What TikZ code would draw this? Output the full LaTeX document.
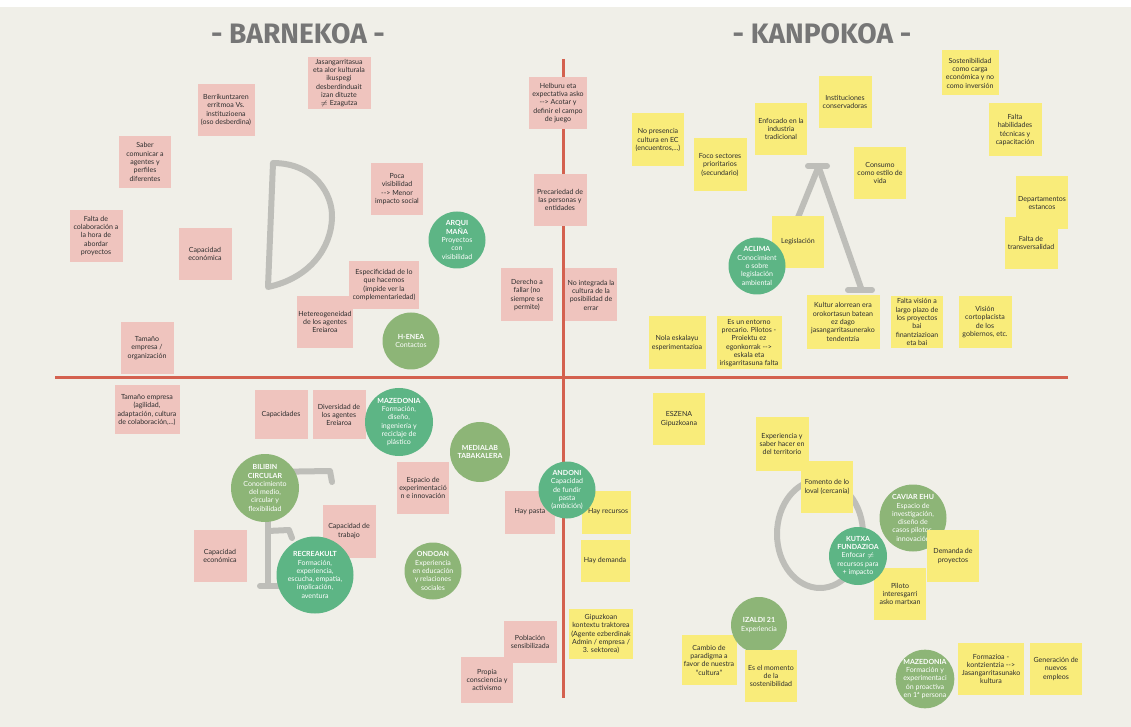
\documentclass[tikz,border=0pt]{standalone}
\usepackage{fontspec}
\setmainfont{Lato}
\newfontfamily\titlefont{Fira Sans}
\usepackage{xcolor}

\definecolor{boardbg}{HTML}{F0EFE8}
\definecolor{notepink}{HTML}{EFC4BE}
\definecolor{noteyellow}{HTML}{F9EC7A}
\definecolor{notetext}{HTML}{2E2E2E}
\definecolor{agentgreen}{HTML}{5DB585}
\definecolor{agentolive}{HTML}{8DB577}
\definecolor{axisred}{HTML}{D4614F}
\definecolor{lettergray}{HTML}{BEBEB9}
\definecolor{titlegray}{HTML}{767676}

\newcommand\notefont{\fontsize{5}{5.9}\selectfont}

\tikzset{
  wh/.style 2 args={minimum width=#1*0.025cm,minimum height=#2*0.025cm},
  dia/.style={minimum size=#1*0.025cm},
  note/.style={inner sep=0pt,align=center,font=\notefont,text=notetext},
  pinknote/.style={note,fill=notepink},
  yellownote/.style={note,fill=noteyellow},
  agent/.style={circle,inner sep=0pt,align=center,font=\notefont,text=white},
  darkagent/.style={agent,fill=agentgreen},
  paleagent/.style={agent,fill=agentolive},
  bigletter/.style={draw=lettergray,line width=0.15cm,line cap=round,line join=round},
  axis/.style={draw=axisred,line width=0.075cm},
  titletext/.style={font=\titlefont\bfseries\fontsize{20}{24}\selectfont,text=titlegray}
}

\begin{document}
\begin{tikzpicture}[x=0.025cm,y=-0.025cm]
\useasboundingbox (0,0) rectangle (1131,727);

%board
\fill[white] (0,0) rectangle (1131,727);
\fill[boardbg] (0,7) rectangle (1131,727);

%titles
\node[titletext] (barnekoa) at (298,34) {- BARNEKOA -};
\node[titletext] (kanpokoa) at (822,34) {- KANPOKOA -};

%axes
\coordinate (hleft) at (55,378);
\coordinate (hright) at (1068,378);
\coordinate (vtop) at (563,59);
\coordinate (vbot) at (563,698);
\draw[axis] (hleft) -- (hright);
\draw[axis] (vtop) -- (vbot);

%D letter
\draw[bigletter] (273,163) .. controls (315,163) and (333,195) .. (332,218)
  .. controls (331,248) and (310,278) .. (268,287) -- cycle;

%A letter
\draw[bigletter] (808,166) -- (827,166);
\draw[bigletter] (818,168) -- (776,272);
\draw[bigletter] (819,168) -- (861,288);
\draw[bigletter] (848,290) -- (872,290);

%F letter
\draw[bigletter] (268,470) -- (268,585);
\draw[bigletter] (260,586) -- (280,586);
\draw[bigletter] (268,472) -- (330,471) -- (332,482);
\draw[bigletter] (268,531) -- (289,530) -- (292,538);

%O letter
\draw[bigletter] (820,534) ellipse[x radius=43,y radius=54];

%D quadrant
\node[pinknote,wh={57}{52}] (berri) at (226,110) {Berrikuntzaren\\erritmoa Vs.\\instituzioena\\(oso desberdina)};
\node[pinknote,wh={52}{52}] (saber) at (145,162) {Saber\\comunicar a\\agentes y\\perfiles\\diferentes};
\node[pinknote,wh={53}{52}] (faltacol) at (96,236) {Falta de\\colaboración a\\la hora de\\abordar\\proyectos};
\node[pinknote,wh={53}{52}] (capeco) at (205,254) {Capacidad\\económica};
\node[pinknote,wh={53}{52}] (tamano) at (147,348) {Tamaño\\empresa /\\organización};
\node[pinknote,wh={63}{52}] (jasan) at (339,83) {Jasangarritasua\\eta alor kulturala\\ikuspegi\\desberdinduait\\izan dituzte\\$\neq$ Ezagutza};
\node[pinknote,wh={52}{52}] (poca) at (397,189) {Poca\\visibilidad\\-{}-> Menor\\impacto social};
\node[pinknote,wh={70}{48}] (espec) at (384,285) {Especificidad de lo\\que hacemos\\(impide ver la\\complementariedad)};
\node[pinknote,wh={56}{52}] (hetero) at (325,322) {Hetereogeneidad\\de los agentes\\Ereiaroa};
\node[pinknote,wh={58}{52}] (helburu) at (558,103) {Helburu eta\\expectativa asko\\-{}-> Acotar y\\definir el campo\\de juego};
\node[pinknote,wh={53}{52}] (preca) at (560,200) {Precariedad de\\las personas y\\entidades};
\node[pinknote,wh={52}{53}] (derecho) at (527,295) {Derecho a\\fallar (no\\siempre se\\permite)};
\node[pinknote,wh={52}{53}] (nointeg) at (591,295) {No integrada la\\cultura de la\\posibilidad de\\errar};
\node[darkagent,dia=57] (arqui) at (457,240) {\textbf{ARQUI}\\\textbf{MAÑA}\\Proyectos\\con\\visibilidad};
\node[paleagent,dia=57] (henea) at (411,341) {\textbf{H-ENEA}\\Contactos};

%A quadrant
\node[yellownote,wh={52}{53}] (nopres) at (658,140) {No presencia\\cultura en EC\\(encuentros,...)};
\node[yellownote,wh={53}{53}] (foco) at (720,165) {Foco sectores\\prioritarios\\(secundario)};
\node[yellownote,wh={52}{52}] (enfoc) at (781,129) {Enfocado en la\\industria\\tradicional};
\node[yellownote,wh={53}{52}] (instit) at (845,102) {Instituciones\\conservadoras};
\node[yellownote,wh={52}{52}] (consumo) at (880,173) {Consumo\\como estilo de\\vida};
\node[yellownote,wh={57}{45}] (sosten) at (970,73) {Sostenibilidad\\como carga\\económica y no\\como inversión};
\node[yellownote,wh={53}{53}] (habil) at (1015,130) {Falta\\habilidades\\técnicas y\\capacitación};
\node[yellownote,wh={52}{53}] (depart) at (1042,203) {Departamentos\\estancos};
\node[yellownote,wh={53}{52}] (transv) at (1031,243) {Falta de\\transversalidad};
\node[yellownote,wh={52}{52}] (legis) at (798,242) {Legislación};
\node[darkagent,dia=57] (aclima) at (757,266) {\textbf{ACLIMA}\\Conocimient\\o sobre\\legislación\\ambiental};
\node[yellownote,wh={73}{54}] (kultur) at (843,322) {Kultur alorrean era\\orokortasun batean\\ez dago\\jasangarritasunerako\\tendentzia};
\node[yellownote,wh={52}{52}] (faltavis) at (917,322) {Falta visión a\\largo plazo de\\los proyectos\\bai\\finantziazioan\\eta bai};
\node[yellownote,wh={53}{52}] (cortopl) at (985,322) {Visión\\cortoplacista\\de los\\gobiernos, etc.};
\node[yellownote,wh={57}{53}] (nola) at (677,343) {Nola eskalayu\\esperimentazioa};
\node[yellownote,wh={65}{53}] (entorno) at (749,343) {Es un entorno\\precario. Pilotos -\\Proiektu ez\\egonkorrak -{}->\\eskala eta\\irisgarritasuna falta};

%F quadrant
\node[pinknote,wh={65}{49}] (tamano2) at (147,410) {Tamaño empresa\\(agilidad,\\adaptación, cultura\\de colaboración,...)};
\node[pinknote,wh={53}{49}] (capac) at (281,415) {Capacidades};
\node[pinknote,wh={53}{49}] (divers) at (339,415) {Diversidad de\\los agentes\\Ereiaroa};
\node[darkagent,dia=68] (mazeleft) at (399,422) {\textbf{MAZEDONIA}\\Formación,\\diseño,\\ingeniería y\\reciclaje de\\plástico};
\node[paleagent,dia=60] (medialab) at (480,452) {\textbf{MEDIALAB}\\\textbf{TABAKALERA}};
\node[pinknote,wh={52}{52}] (espacio) at (423,488) {Espacio de\\experimentació\\n e innovación};
\node[paleagent,dia=68] (bilibin) at (265,488) {\textbf{BILIBIN}\\\textbf{CIRCULAR}\\Conocimiento\\del medio,\\circular y\\flexibilidad};
\node[pinknote,wh={53}{52}] (capeco2) at (220,556) {Capacidad\\económica};
\node[pinknote,wh={53}{53}] (captrab) at (349,531) {Capacidad de\\trabajo};
\node[darkagent,dia=77] (recrea) at (315,575) {\textbf{RECREAKULT}\\Formación,\\experiencia,\\escucha, empatía,\\implicación,\\aventura};
\node[paleagent,dia=57] (ondoan) at (433,571) {\textbf{ONDOAN}\\Experiencia\\en educación\\y relaciones\\sociales};
\node[pinknote,wh={50}{43}] (haypasta) at (530,512) {Hay pasta};
\node[pinknote,wh={53}{42}] (poblacion) at (530,642) {Población\\sensibilizada};
\node[pinknote,wh={52}{46}] (propia) at (487,680) {Propia\\consciencia y\\activismo};

%O quadrant
\node[yellownote,wh={49}{43}] (hayrec) at (606,512) {\hspace{3pt}Hay recursos};
\node[yellownote,wh={49}{42}] (haydem) at (605,561) {Hay demanda};
\node[darkagent,dia=57] (andoni) at (567,490) {\textbf{ANDONI}\\Capacidad\\de fundir\\pasta\\(ambición)};
\node[yellownote,wh={64}{50}] (gipuz) at (601,634) {Gipuzkoan\\kontextu traktorea\\(Agente ezberdinak\\Admin / empresa /\\3. sektorea)};
\node[yellownote,wh={52}{52}] (eszena) at (679,419) {ESZENA\\Gipuzkoana};
\node[yellownote,wh={53}{53}] (expsab) at (782,444) {Experiencia y\\saber hacer en\\del territorio};
\node[yellownote,wh={52}{52}] (fomento) at (827,487) {Fomento de lo\\loval (cercanía)};
\node[paleagent,dia=67] (caviar) at (913,518) {\textbf{CAVIAR EHU}\\Espacio de\\investigación,\\diseño de\\casos pilotos,\\innovación};
\node[yellownote,wh={52}{52}] (demanda) at (953,556) {Demanda de\\proyectos};
\node[yellownote,wh={52}{52}] (piloto) at (900,594) {Piloto\\interesgarri\\asko martxan};
\node[darkagent,dia=58] (kutxa) at (858,556) {\textbf{KUTXA}\\\textbf{FUNDAZIOA}\\Enfocar $\neq$\\recursos para\\+ impacto};
\node[yellownote,wh={55}{50}] (cambio) at (709,660) {Cambio de\\paradigma a\\favor de nuestra\\``cultura''};
\node[paleagent,dia=56] (izaldi) at (759,625) {\textbf{IZALDI 21}\\Experiencia};
\node[yellownote,wh={52}{52}] (momento) at (771,676) {Es el momento\\de la\\sostenibilidad};
\node[paleagent,dia=54] (mazeright) at (925,679) {\textbf{MAZEDONIA}\\Formación y\\experimentaci\\ón proactiva\\en 1ª persona};
\node[yellownote,wh={66}{52}] (formaz) at (991,669) {Formazioa -\\kontzientzia -{}->\\Jasangarritasunako\\kultura};
\node[yellownote,wh={52}{52}] (generac) at (1056,669) {Generación de\\nuevos\\empleos};
\end{tikzpicture}
\end{document}
